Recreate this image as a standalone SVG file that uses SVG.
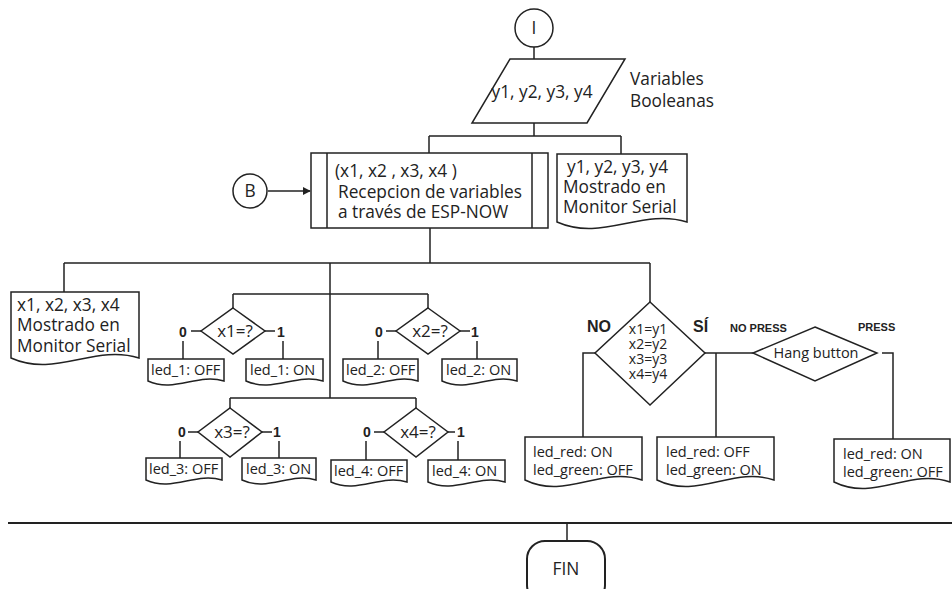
<svg xmlns="http://www.w3.org/2000/svg" width="952" height="589" viewBox="0 0 952 589">
  <defs>
    <marker id="arrow" viewBox="0 0 10 10" refX="9" refY="5" markerWidth="8" markerHeight="8" markerUnits="userSpaceOnUse" orient="auto">
      <path d="M0,0 L10,5 L0,10 z" fill="#222"/>
    </marker>
    <style>
      .shape { fill: #fff; stroke: #222; stroke-width: 1.5; }
      .line { fill: none; stroke: #222; stroke-width: 1.5; }
      .t { font-family: "Open Sans", "Noto Sans", sans-serif; fill: #222; }
      .big { font-size: 17.3px; }
      .mid { font-size: 14.5px; }
      .small { font-size: 14.5px; }
      .dec { font-size: 17px; }
      .cmp { font-size: 14px; }
      .lbl { font-family: "Liberation Sans", Arial, sans-serif; font-weight: bold; fill: #222; }
      .mc { text-anchor: middle; }
    </style>
  </defs>
  <rect width="952" height="589" fill="#fff"/>

  <!-- connectors -->
  <g id="connectors">
    <path class="line" d="M534,47 V59"/>
    <path class="line" d="M534,123 V136 M429,136 H621 M429,136 V153 M621,136 V154"/>
    <path class="line" d="M268,191 H310" marker-end="url(#arrow)"/>
    <path class="line" d="M430,228 V263 M64,263 H650 M64,263 V292 M330,263 V398 M650,263 V302"/>
    <path class="line" d="M233,294 H428 M233,294 V308 M428,294 V308"/>
    <path class="line" d="M230,398 H416 M230,398 V408 M416,398 V408"/>
    <!-- x1 branches -->
    <path class="line" d="M201,331 H191 M183,341 V359 M265,331 H275 M283,341 V359"/>
    <!-- x2 branches -->
    <path class="line" d="M396,331 H386 M378,341 V359 M460,331 H470 M477,341 V359"/>
    <!-- x3 branches -->
    <path class="line" d="M198,432 H188 M180,441 V458 M262,432 H272 M279,441 V458"/>
    <!-- x4 branches -->
    <path class="line" d="M384,432 H374 M366,441 V460 M448,432 H455 M458,441 V460"/>
    <!-- comparison branches -->
    <path class="line" d="M595,353 H583 V437"/>
    <path class="line" d="M705,353 H753 M716,353 V437"/>
    <path class="line" d="M882,353 H893 V439"/>
    <!-- end -->
    <path class="line" d="M8,523 H952" style="stroke-width:2"/>
    <path class="line" d="M567,523 V541"/>
  </g>

  <!-- start -->
  <g id="start">
    <circle class="shape" cx="534" cy="28" r="19"/>
    <text class="t big mc" x="534" y="34">I</text>
  </g>

  <!-- inputs -->
  <g id="inputs">
    <polygon class="shape" points="510,59 625,59 587,123 472,123"/>
    <text class="t big mc" x="542" y="98">y1, y2, y3, y4</text>
  </g>
  <g id="inputs-note">
    <text class="t big" x="630" y="85">Variables</text>
    <text class="t big" x="630" y="107">Booleanas</text>
  </g>

  <!-- connector B -->
  <g id="connector-b">
    <circle class="shape" cx="250" cy="191" r="17"/>
    <text class="t big mc" x="250" y="197">B</text>
  </g>

  <!-- reception -->
  <g id="reception">
    <rect class="shape" x="311" y="153" width="237" height="75"/>
    <path class="line" d="M327,153 V228 M532,153 V228"/>
    <text class="t big" x="335" y="177">(x1, x2 , x3, x4 )</text>
    <text class="t big" x="338" y="198">Recepcion de variables</text>
    <text class="t big" x="338" y="218">a través de ESP-NOW</text>
  </g>

  <!-- y display -->
  <g id="serial-y">
    <path class="shape" d="M557,154 H687 V222 C641.5,208 602.5,242 557,222 Z"/>
    <text class="t big" x="567" y="173">y1, y2, y3, y4</text>
    <text class="t big" x="563" y="193">Mostrado en</text>
    <text class="t big" x="563" y="213">Monitor Serial</text>
  </g>

  <!-- x display -->
  <g id="serial-x">
    <path class="shape" d="M11,292 H139 V358 C94.2,344 55.8,378 11,358 Z"/>
    <text class="t big" x="17" y="311">x1, x2, x3, x4</text>
    <text class="t big" x="17" y="331">Mostrado en</text>
    <text class="t big" x="17" y="352">Monitor Serial</text>
  </g>

  <!-- x1 -->
  <g id="decision-x1">
    <polygon class="shape" points="233,308 265,331 233,354 201,331"/>
    <text class="t dec mc" x="235" y="337">x1=?</text>
    <text class="lbl" x="183" y="337" font-size="14" text-anchor="middle">0</text>
    <text class="lbl" x="281" y="337" font-size="14" text-anchor="middle">1</text>
  </g>
  <g id="led1-off">
    <path class="shape" d="M148,359 H224 V381 C197.4,373 174.6,393 148,381 Z"/>
    <text class="t small" x="151" y="375">led_1: OFF</text>
  </g>
  <g id="led1-on">
    <path class="shape" d="M246,359 H323 V381 C296,373 273,393 246,381 Z"/>
    <text class="t small" x="250" y="375">led_1: ON</text>
  </g>

  <!-- x2 -->
  <g id="decision-x2">
    <polygon class="shape" points="428,308 460,331 428,354 396,331"/>
    <text class="t dec mc" x="430" y="337">x2=?</text>
    <text class="lbl" x="379" y="337" font-size="14" text-anchor="middle">0</text>
    <text class="lbl" x="475" y="337" font-size="14" text-anchor="middle">1</text>
  </g>
  <g id="led2-off">
    <path class="shape" d="M343,359 H418 V381 C391.75,373 369.25,393 343,381 Z"/>
    <text class="t small" x="346" y="375">led_2: OFF</text>
  </g>
  <g id="led2-on">
    <path class="shape" d="M442,359 H517 V381 C490.75,373 468.25,393 442,381 Z"/>
    <text class="t small" x="446" y="375">led_2: ON</text>
  </g>

  <!-- x3 -->
  <g id="decision-x3">
    <polygon class="shape" points="230,408 262,432 230,457 198,432"/>
    <text class="t dec mc" x="232" y="438">x3=?</text>
    <text class="lbl" x="182" y="437" font-size="14" text-anchor="middle">0</text>
    <text class="lbl" x="277" y="437" font-size="14" text-anchor="middle">1</text>
  </g>
  <g id="led3-off">
    <path class="shape" d="M146,458 H222 V480 C195.4,472 172.6,492 146,480 Z"/>
    <text class="t small" x="149" y="474">led_3: OFF</text>
  </g>
  <g id="led3-on">
    <path class="shape" d="M242,458 H316 V480 C290.1,472 267.9,492 242,480 Z"/>
    <text class="t small" x="246" y="474">led_3: ON</text>
  </g>

  <!-- x4 -->
  <g id="decision-x4">
    <polygon class="shape" points="416,408 448,432 416,457 384,432"/>
    <text class="t dec mc" x="418" y="438">x4=?</text>
    <text class="lbl" x="367" y="437" font-size="14" text-anchor="middle">0</text>
    <text class="lbl" x="461" y="437" font-size="14" text-anchor="middle">1</text>
  </g>
  <g id="led4-off">
    <path class="shape" d="M331,460 H407 V482 C380.4,474 357.6,494 331,482 Z"/>
    <text class="t small" x="334" y="476">led_4: OFF</text>
  </g>
  <g id="led4-on">
    <path class="shape" d="M428,460 H505 V482 C478,474 455,494 428,482 Z"/>
    <text class="t small" x="432" y="476">led_4: ON</text>
  </g>

  <!-- comparison -->
  <g id="compare">
    <polygon class="shape" points="650,302 705,353 650,405 595,353"/>
    <text class="t cmp mc" x="648" y="334">x1=y1</text>
    <text class="t cmp mc" x="648" y="349">x2=y2</text>
    <text class="t cmp mc" x="648" y="364">x3=y3</text>
    <text class="t cmp mc" x="648" y="379">x4=y4</text>
    <text class="lbl" x="587" y="332" font-size="16">NO</text>
    <text class="lbl" x="693" y="332" font-size="16">SÍ</text>
  </g>
  <g id="leds-mismatch">
    <path class="shape" d="M525,437 H642 V480 C601,466 566,500 525,480 Z"/>
    <text class="t mid" x="533" y="457">led_red: ON</text>
    <text class="t mid" x="533" y="475">led_green: OFF</text>
  </g>
  <g id="leds-match">
    <path class="shape" d="M657,437 H774 V480 C733,466 698,500 657,480 Z"/>
    <text class="t mid" x="666" y="457">led_red: OFF</text>
    <text class="t mid" x="666" y="475">led_green: ON</text>
  </g>

  <!-- hang button -->
  <g id="hang-button">
    <polygon class="shape" points="815,327 877,353 815,381 753,353"/>
    <text class="t mid mc" x="816" y="358">Hang button</text>
    <text class="lbl" x="730" y="332" font-size="11">NO PRESS</text>
    <text class="lbl" x="858" y="331" font-size="11">PRESS</text>
  </g>
  <g id="leds-press">
    <path class="shape" d="M834,439 H950 V482 C909.4,468 874.6,502 834,482 Z"/>
    <text class="t mid" x="843" y="459">led_red: ON</text>
    <text class="t mid" x="843" y="477">led_green: OFF</text>
  </g>

  <!-- end -->
  <g id="end">
    <rect x="527" y="541" width="78" height="62" rx="18" ry="18" fill="#fff" stroke="#222" stroke-width="2"/>
    <text class="t big mc" x="566" y="575">FIN</text>
  </g>
</svg>
